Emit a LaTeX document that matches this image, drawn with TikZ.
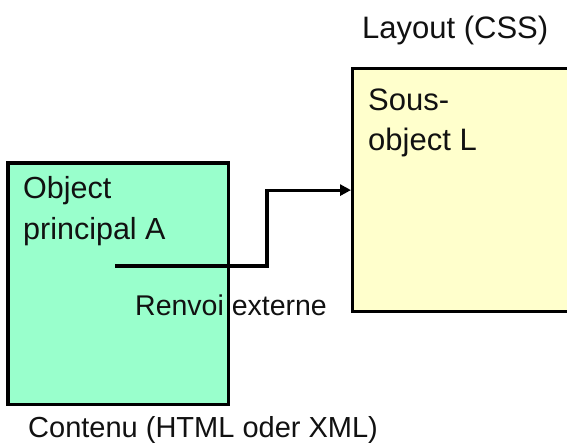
\documentclass[tikz,border=0pt]{standalone}
\usepackage{fontspec}
\setmainfont{Liberation Sans}
\usetikzlibrary{arrows.meta,calc}
\definecolor{boxgreen}{HTML}{99FFCC}
\definecolor{boxyellow}{HTML}{FFFFCC}
\definecolor{inkcol}{HTML}{111111}
\begin{document}
\begin{tikzpicture}[x=1pt,y=-1pt,
  border/.style={draw=black,line width=3.2pt},
  lbl/.style={inner sep=0pt,anchor=base west,text=inkcol,align=left},
  conn/.style={draw=black,line width=3.2pt,-{Triangle[length=11pt,width=11pt]}}]
\clip (0,0) rectangle (567,444);
\fill[white] (0,0) rectangle (567,444);
% green box (fill only, border drawn later over the label)
\node[fill=boxgreen,inner sep=0pt,minimum width=220pt,minimum height=241pt,anchor=north west] (A) at (8,163) {};
% yellow box, running off the right edge
\node[fill=boxyellow,border,inner sep=0pt,minimum width=240pt,minimum height=243pt,anchor=north west] (L) at (351,67) {};
\node[lbl,font=\fontsize{30.5}{41}\selectfont] (tA) at (23,239) {Object\\principal A};
\node[lbl,font=\fontsize{31}{40}\selectfont] (tL) at (368,150) {Sous-\\object L};
\node[lbl,font=\fontsize{31}{38}\selectfont] (lay) at (362,39) {Layout (CSS)};
\node[lbl,font=\fontsize{28.5}{34}\selectfont] (ren) at (135,315) {Renvoi externe};
\node[lbl,font=\fontsize{29}{34}\selectfont] (con) at (28,437) {Contenu (HTML oder XML)};
\draw[border] (A.north west) rectangle (A.south east);
\coordinate (s) at (115,266);
\coordinate (k) at (267,266);
\draw[conn] (s) -- (k) |- (L.west);
\end{tikzpicture}
\end{document}
